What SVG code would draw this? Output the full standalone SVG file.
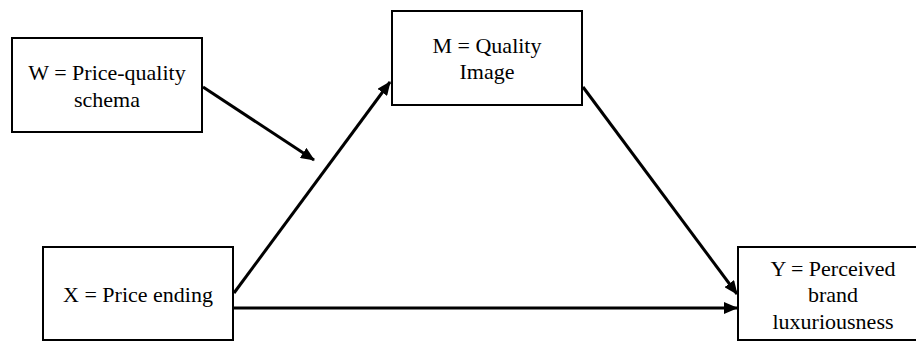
<svg xmlns="http://www.w3.org/2000/svg" width="916" height="341" viewBox="0 0 916 341">
  <style>
    .box { fill: #ffffff; stroke: #000000; stroke-width: 2; }
    .lbl { font-family: "Liberation Serif", "Times New Roman", serif; font-size: 22px; fill: #000000; text-anchor: middle; }
    .conn { stroke: #000000; stroke-width: 3; fill: none; marker-end: url(#arrow); }
  </style>
  <defs>
    <marker id="arrow" markerUnits="userSpaceOnUse" markerWidth="14" markerHeight="12" refX="13" refY="6" orient="auto">
      <path d="M0,0 L14,6 L0,12 z" fill="#000000"/>
    </marker>
  </defs>
  <rect width="916" height="341" fill="#ffffff"/>

  <g id="node-W">
    <rect class="box" x="12" y="38" width="190" height="94"/>
    <text class="lbl" x="107" y="80">W = Price-quality</text>
    <text class="lbl" x="107" y="107">schema</text>
  </g>
  <g id="node-M">
    <rect class="box" x="392" y="11" width="190" height="94"/>
    <text class="lbl" x="487" y="53">M = Quality</text>
    <text class="lbl" x="487" y="79">Image</text>
  </g>
  <g id="node-X">
    <rect class="box" x="43" y="247" width="190" height="93"/>
    <text class="lbl" x="138" y="302">X = Price ending</text>
  </g>
  <g id="node-Y">
    <rect class="box" x="738" y="247" width="190" height="93"/>
    <text class="lbl" x="833" y="276">Y = Perceived</text>
    <text class="lbl" x="833" y="302">brand</text>
    <text class="lbl" x="833" y="329">luxuriousness</text>
  </g>

  <g id="connectors">
    <line class="conn" x1="203" y1="87" x2="314" y2="160"/>
    <line class="conn" x1="234" y1="293" x2="390" y2="82"/>
    <line class="conn" x1="583" y1="87" x2="737" y2="294"/>
    <line class="conn" x1="234" y1="308" x2="737" y2="308"/>
  </g>
</svg>
